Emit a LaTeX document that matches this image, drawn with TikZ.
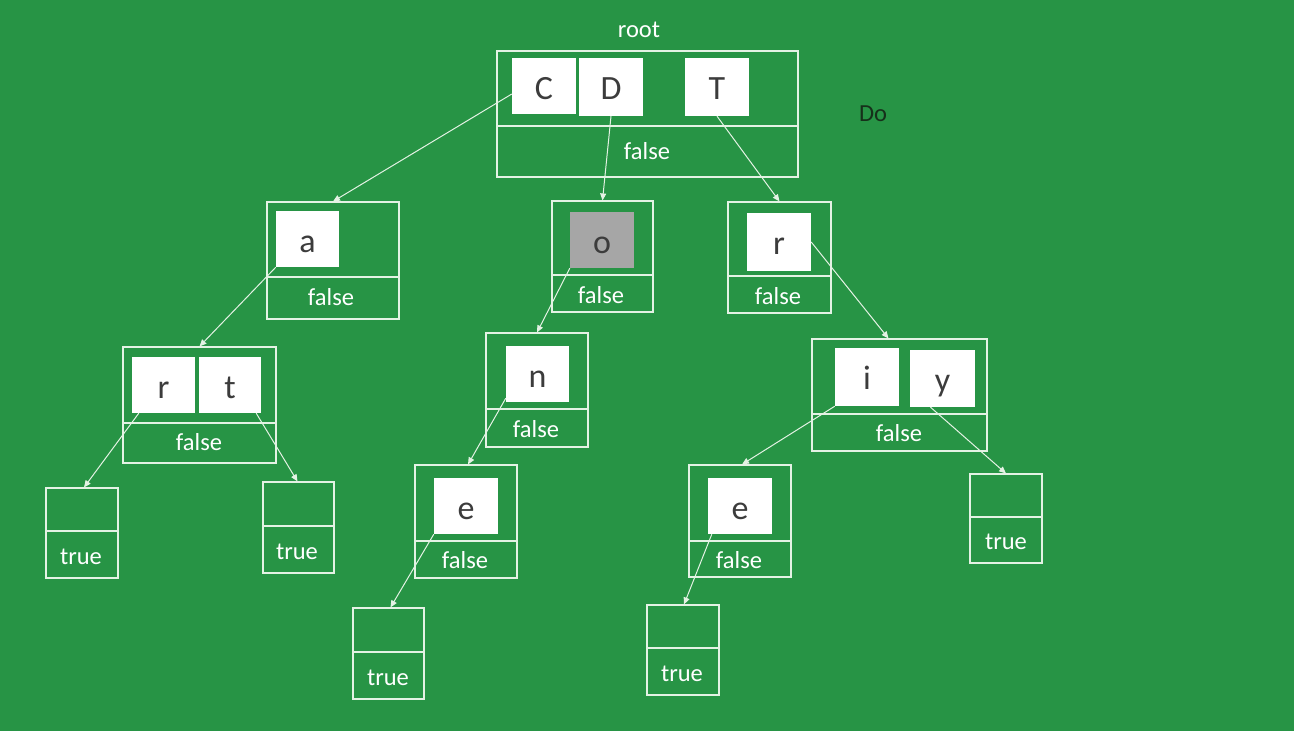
\documentclass[tikz,border=0pt]{standalone}
\usepackage{fontspec}
\setmainfont{Carlito}
\usetikzlibrary{arrows.meta,fit}
\definecolor{bg}{RGB}{39,148,69}
\definecolor{ln}{RGB}{228,242,228}
\definecolor{ink}{RGB}{60,60,60}
\definecolor{dokcol}{RGB}{22,48,26}
\definecolor{grayfill}{RGB}{166,166,166}
\tikzset{
  outer/.style={draw=ln, line width=1.1pt, inner sep=0pt},
  divline/.style={draw=ln, line width=1.1pt},
  letterbox/.style={fill=white, inner sep=0pt},
  lettertext/.style={text=ink, inner sep=0pt, anchor=base, font=\fontsize{34}{34}\selectfont},
  lbl/.style={text=white, inner sep=0pt, font=\fontsize{24.5}{25}\selectfont},
  link/.style={draw=ln, line width=1pt, -{Triangle[length=7pt,width=6pt]}},
}
% name, x1, y1, x2, y2, ydiv
\newcommand\trienode[6]{%
  \node[outer, fit={(#2,#3) (#4,#5)}] (#1) {};
  \draw[divline] (#2,#6) -- (#4,#6);}
% name, x1, y1, x2, y2, letter, fill
\newcommand\letterbox[7]{%
  \node[letterbox, fill=#7, fit={(#2,#3) (#4,#5)}] (#1) {};
  \node[lettertext] (#1t) at ([yshift=-42pt]#1.north) {#6};}
\begin{document}
\begin{tikzpicture}[x=1pt,y=-1pt]
\fill[bg] (0,0) rectangle (1294,731);
\useasboundingbox (0,0) rectangle (1294,731);

% outer boxes
\trienode{root}{497}{51}{798}{177}{126}
\trienode{A}{267}{202}{399}{319}{277}
\trienode{O}{552}{201}{653}{312}{275}
\trienode{R}{728}{202}{831}{313}{276}
\trienode{RT}{123}{347}{276}{463}{423}
\trienode{N}{486}{333}{588}{447}{409}
\trienode{IY}{812}{339}{987}{451}{414}
\trienode{T1}{46}{488}{118}{578}{531}
\trienode{T2}{263}{482}{334}{573}{526}
\trienode{E1}{415}{465}{517}{578}{541}
\trienode{E2}{689}{465}{791}{577}{541}
\trienode{T3}{353}{608}{424}{699}{652}
\trienode{T4}{647}{605}{719}{695}{648}
\trienode{T5}{970}{474}{1042}{563}{517}

% labels
\node[lbl] (rootlbl) at (639,30) {root};
\node[text=dokcol, inner sep=0pt, font=\fontsize{24.5}{25}\selectfont] (dolbl) at (873,114) {Do};
\node[lbl] (l0) at (647,151) {false};
\node[lbl] (l1) at (331,297) {false};
\node[lbl] (l2) at (601,295) {false};
\node[lbl] (l3) at (778,296) {false};
\node[lbl] (l4) at (199,442) {false};
\node[lbl] (l5) at (536,429) {false};
\node[lbl] (l6) at (899,433) {false};
\node[lbl] (l7) at (81,557) {true};
\node[lbl] (l8) at (297,552) {true};
\node[lbl] (l9) at (465,560) {false};
\node[lbl] (l10) at (739,560) {false};
\node[lbl] (l11) at (388,678) {true};
\node[lbl] (l12) at (682,674) {true};
\node[lbl] (l13) at (1006,542) {true};

% letter boxes
\letterbox{nC}{512}{58}{576}{114}{C}{white}
\letterbox{nD}{579}{58}{643}{116}{D}{white}
\letterbox{nT}{685}{58}{749}{116}{T}{white}
\letterbox{na}{276}{211}{339}{267}{a}{white}
\letterbox{no}{570}{212}{634}{268}{o}{grayfill}
\letterbox{nr}{747}{213}{811}{271}{r}{white}
\letterbox{nrr}{132}{357}{195}{413}{r}{white}
\letterbox{nt}{199}{357}{261}{413}{t}{white}
\letterbox{nn}{506}{346}{569}{402}{n}{white}
\letterbox{neA}{434}{478}{498}{534}{e}{white}
\letterbox{neB}{708}{478}{772}{534}{e}{white}
\letterbox{ni}{835}{348}{899}{406}{i}{white}
\letterbox{ny}{910}{350}{975}{407}{y}{white}

% connectors
\draw[link] ([yshift=-8pt]nC.west) -- (A.north);
\draw[link] (nD.south) -- (O.north);
\draw[link] (nT.south) -- (R.north);
\draw[link] (na.south west) -- (RT.north);
\draw[link] (no.south west) -- (N.north);
\draw[link] (nr.east) -- ([xshift=-11pt]IY.north);
\draw[link] ([xshift=7pt]nrr.south west) -- ([xshift=2pt]T1.north);
\draw[link] ([xshift=-5pt]nt.south east) -- ([xshift=-1pt]T2.north);
\draw[link] ([yshift=4pt]nn.south west) -- ([xshift=2pt]E1.north);
\draw[link] (neA.south west) -- ([xshift=2pt]T3.north);
\draw[link] (ni.south west) -- ([xshift=2pt]E2.north);
\draw[link] ([xshift=-12pt]ny.south) -- (T5.north);
\draw[link] ([xshift=4pt]neB.south west) -- ([xshift=1pt]T4.north);
\end{tikzpicture}
\end{document}
